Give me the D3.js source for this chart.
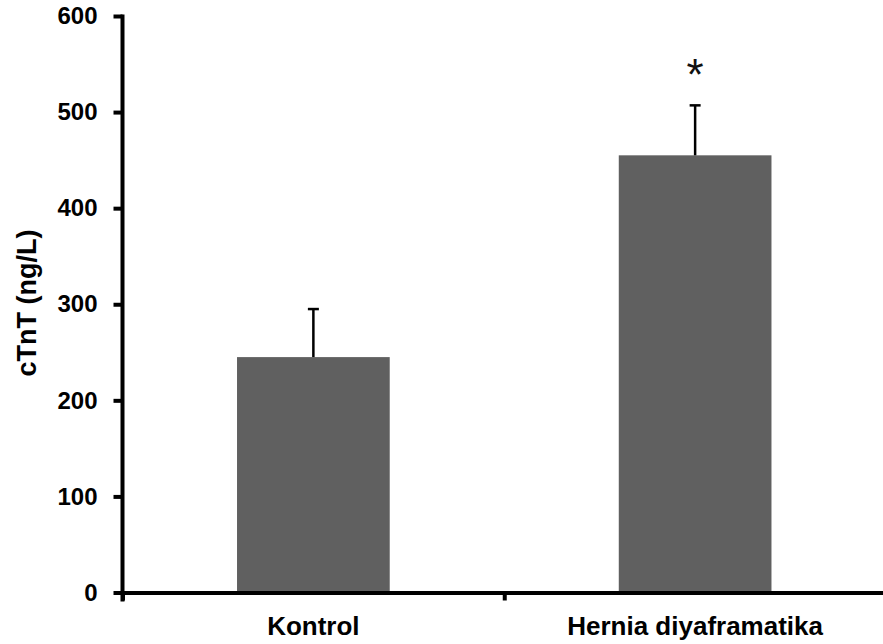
<!DOCTYPE html>
<html>
<head>
<meta charset="utf-8">
<script src="https://d3js.org/d3.v7.min.js"></script>
<style>
  body { margin: 0; background: #fff; }
  svg { display: block; font-family: Arial, "Liberation Sans", sans-serif; }
</style>
</head>
<body>
<svg id="chart"></svg>
<script>
// data
var groups = ["Kontrol", "Hernia diyaframatika"];
var means = [245, 455];
var errors = [50, 52];
var marks = ["", "*"];
var yTicks = [0, 100, 200, 300, 400, 500, 600];

var W = 883, H = 644;
var svg = d3.select("#chart").attr("width", W).attr("height", H);

var xLeft = 122.5, xRight = 886, yTop = 16, yBottom = 592.5;

var y = d3.scaleLinear().domain([0, 600]).range([yBottom, yTop]);
var x = d3.scaleBand().domain(groups).range([xLeft, xRight])
  .paddingInner(0.6).paddingOuter(0.3);
// group boundaries for the x axis tick marks
var xb = d3.scaleLinear().domain([0, groups.length]).range([xLeft, xRight]);

var rows = groups.map(function(g, i) {
  return { name: g, mean: means[i], err: errors[i], mark: marks[i] };
});

// bars
svg.append("g").selectAll("rect")
  .data(rows)
  .enter().append("rect")
  .attr("x", function(d) { return x(d.name); })
  .attr("y", function(d) { return y(d.mean); })
  .attr("width", x.bandwidth())
  .attr("height", function(d) { return y(0) - y(d.mean); })
  .attr("fill", "#606060");

// error bars (upper only)
var eb = svg.append("g").selectAll("g")
  .data(rows)
  .enter().append("g")
  .attr("transform", function(d) { return "translate(" + (x(d.name) + x.bandwidth() / 2) + ",0)"; });

eb.append("line")
  .attr("x1", 0).attr("x2", 0)
  .attr("y1", function(d) { return y(d.mean); })
  .attr("y2", function(d) { return y(d.mean + d.err); })
  .attr("stroke", "#000").attr("stroke-width", 2.5);

eb.append("line")
  .attr("x1", -5.5).attr("x2", 5.5)
  .attr("y1", function(d) { return y(d.mean + d.err); })
  .attr("y2", function(d) { return y(d.mean + d.err); })
  .attr("stroke", "#000").attr("stroke-width", 2.5);

eb.append("text")
  .text(function(d) { return d.mark; })
  .attr("y", function(d) { return y(d.mean + d.err) - 15; })
  .attr("text-anchor", "middle")
  .attr("font-size", "44px")
  .attr("fill", "#111");

// y axis
var yAxis = svg.append("g")
  .attr("transform", "translate(" + xLeft + ",0)")
  .call(d3.axisLeft(y).tickValues(yTicks).tickSize(9).tickPadding(16).tickSizeOuter(0));
yAxis.select(".domain").attr("stroke", "#000").attr("stroke-width", 4)
  .attr("d", "M0," + (yBottom + 9) + "V" + (yTop - 1.5));
yAxis.selectAll(".tick line").attr("stroke", "#000").attr("stroke-width", 4);
yAxis.selectAll(".tick text")
  .attr("font-size", "24px").attr("font-weight", "bold")
  .attr("font-family", "Arial, 'Liberation Sans', sans-serif")
  .attr("fill", "#000");

// x axis
var xAxis = svg.append("g")
  .attr("transform", "translate(0," + yBottom + ")")
  .call(d3.axisBottom(xb).tickValues(d3.range(groups.length + 1)).tickSize(8).tickFormat("").tickSizeOuter(0));
xAxis.select(".domain").attr("stroke", "#000").attr("stroke-width", 4);
xAxis.selectAll(".tick line").attr("stroke", "#000").attr("stroke-width", 4);

svg.append("g").selectAll("text")
  .data(groups)
  .enter().append("text")
  .text(function(d) { return d; })
  .attr("x", function(d) { return x(d) + x.bandwidth() / 2; })
  .attr("y", 635)
  .attr("text-anchor", "middle")
  .attr("font-size", "26px")
  .attr("font-weight", "bold")
  .attr("fill", "#000");

// y title
svg.append("text")
  .text("cTnT (ng/L)")
  .attr("transform", "translate(36,303) rotate(-90)")
  .attr("text-anchor", "middle")
  .attr("font-size", "27px")
  .attr("font-weight", "bold")
  .attr("fill", "#000");
</script>
</body>
</html>
